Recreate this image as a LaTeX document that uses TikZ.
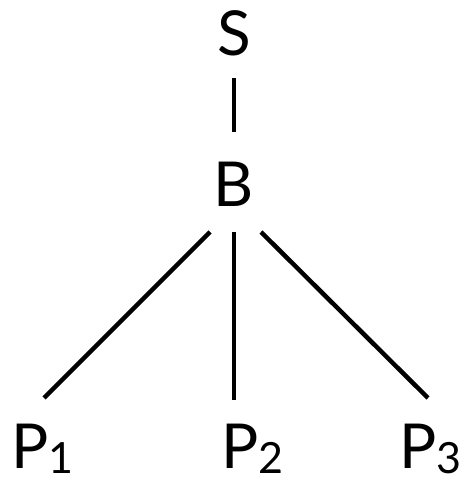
\documentclass[tikz,border=0pt]{standalone}
\usepackage{fontspec}
\setmainfont{Lato}
\newcommand{\bigfont}{\fontsize{62}{62}\selectfont}
\newcommand{\subfig}[1]{\raisebox{-5pt}{\fontsize{43}{43}\selectfont #1}}
\begin{document}
\begin{tikzpicture}[x=1pt,y=1pt,
  lbl/.style={inner sep=0pt, anchor=base, font=\bigfont},
  plbl/.style={inner sep=0pt, anchor=base west, font=\bigfont},
  edge/.style={line width=4.5pt}]
\useasboundingbox (0,0) rectangle (464,483);
\node[lbl] (S) at (234,427) {S};
\node[lbl] (B) at (234,276) {B};
\node[plbl] (P1) at (11,14) {P\subfig{1}};
\node[plbl] (P2) at (221,14) {P\subfig{2}};
\node[plbl] (P3) at (399,14) {P\subfig{3}};
\coordinate (s0) at (234,405);
\coordinate (b0) at (234,351);
\coordinate (b1) at (210,251);
\coordinate (b2) at (234,251);
\coordinate (b3) at (261,251);
\coordinate (p1) at (44,85);
\coordinate (p2) at (234,83);
\coordinate (p3) at (428,85);
\draw[edge] (s0) -- (b0);
\draw[edge] (b1) -- (p1);
\draw[edge] (b2) -- (p2);
\draw[edge] (b3) -- (p3);
\end{tikzpicture}
\end{document}
